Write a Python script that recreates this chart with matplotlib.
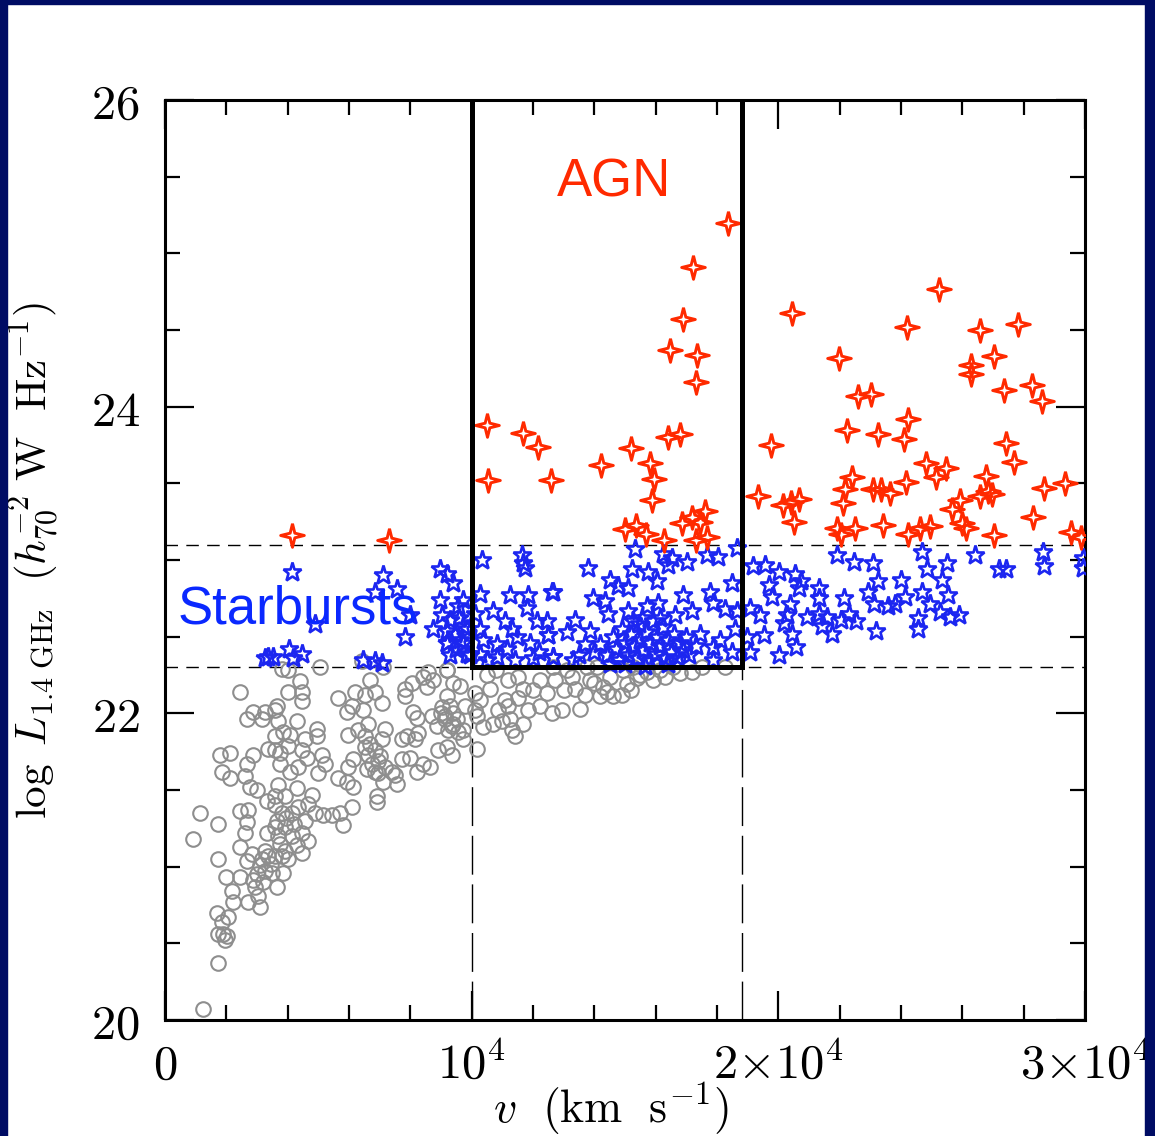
import matplotlib
matplotlib.use("Agg")
import matplotlib.pyplot as plt
from matplotlib.patches import Rectangle
from matplotlib.ticker import MultipleLocator

plt.rcParams["mathtext.fontset"] = "cm"

# velocities in km/s, log L_1.4GHz
gray_v = [
    1250, 1739, 1739, 2011, 1848, 2065, 1685, 1957, 1902, 924, 1141, 1739, 1739, 1989,
    2228, 2174, 2446, 2718, 3098, 3044, 2881, 2663, 2446, 2609, 2446, 2718, 2663, 2826,
    3098, 3261, 3370, 3261, 3641, 3478, 3587, 3859, 3804, 4022, 3750, 3315, 3587, 3804,
    3587, 3913, 3696, 3913, 4131, 4294, 4457, 4131, 4348, 4565, 4457, 4674, 4674, 4783,
    4294, 3587, 3315, 2990, 2772, 2609, 2663, 2881, 1794, 2120, 1848, 2120, 3370, 3587,
    3750, 3587, 3859, 4076, 4022, 3750, 4076, 4565, 4457, 4620, 4348, 4946, 4946, 5109,
    5218, 5000, 2663, 2881, 3152, 3261, 3587, 3641, 2446, 3804, 4022, 4402, 4022, 4457,
    4457, 5055, 4892, 5163, 5435, 5707, 5815, 6087, 5652, 5924, 6142, 5978, 6142, 5978,
    6305, 6522, 6631, 6522, 6631, 6848, 7066, 7174, 6739, 6957, 7174, 6957, 7392, 7120,
    6903, 6903, 7500, 7555, 7718, 7989, 7718, 7881, 8153, 8261, 8424, 8642, 8207, 5652,
    5924, 6196, 6087, 6468, 6522, 6848, 7066, 6685, 6413, 7120, 7826, 7826, 8044, 8424,
    8587, 8750, 8533, 8098, 8207, 8696, 9022, 8859, 9131, 9348, 9240, 9511, 9566, 9729,
    9185, 8913, 9348, 9783, 9620, 9185, 10109, 10109, 10163,
    3700, 3900, 3650, 4200, 3450, 3950, 3200, 3000, 3150, 2950, 6700, 6850, 7000, 6600,
    9000, 9300, 9400, 3700, 4300,
    9185, 9403, 9185, 9131, 9403, 9729, 10272, 10164, 10381, 10599, 10870, 11088, 11251,
    11305, 11414, 11196, 11522, 11686, 11849, 11686, 12229, 12229, 12446, 12718, 12609,
    12935, 13262, 13370, 13533, 13860, 14077, 14295, 14186, 14512, 14621, 14947, 15055,
    14892, 15381, 15707, 15925, 16142, 16577, 17175, 18262, 12664, 13099, 13751, 15273,
    11000, 11200, 10700, 11500, 12000, 13000, 13700, 14000, 14400, 15200, 15500, 16300,
    16800, 17500, 10500, 10800,
]
gray_logl = [
    20.07, 20.37, 20.56, 20.55, 20.64, 20.67, 20.70, 20.52, 20.56, 21.18, 21.35, 21.28, 21.05, 20.93,
    20.77, 20.84, 20.93, 20.77, 20.74, 20.81, 20.91, 21.04, 21.13, 21.22, 21.36, 21.37, 21.29, 21.08,
    21.01, 20.97, 21.07, 21.10, 20.87, 20.96, 21.07, 20.96, 21.07, 21.05, 21.15, 21.22, 21.26, 21.35,
    21.40, 21.46, 21.53, 21.26, 21.20, 21.14, 21.09, 21.35, 21.39, 21.30, 21.22, 21.17, 21.41, 21.47,
    21.51, 21.46, 21.43, 21.50, 21.52, 21.59, 21.67, 21.73, 21.73, 21.74, 21.62, 21.58, 21.77, 21.76,
    21.74, 21.85, 21.88, 21.86, 21.79, 21.67, 21.62, 21.83, 21.76, 21.71, 21.65, 21.90, 21.85, 21.73,
    21.67, 21.61, 21.96, 22.01, 21.96, 22.01, 22.02, 22.05, 22.14, 22.29, 22.28, 22.21, 22.14, 22.14,
    22.08, 22.30, 21.35, 21.34, 21.34, 21.35, 21.27, 21.39, 21.58, 21.55, 21.52, 21.65, 21.70, 21.86,
    21.89, 21.85, 21.93, 21.78, 21.73, 21.76, 21.83, 21.90, 21.67, 21.69, 21.65, 21.61, 21.62, 21.55,
    21.46, 21.42, 21.60, 21.54, 21.70, 21.71, 21.83, 21.85, 21.83, 21.87, 21.67, 21.65, 21.62, 22.10,
    22.01, 22.14, 22.05, 22.02, 22.12, 22.14, 22.07, 22.22, 22.34, 22.30, 22.16, 22.11, 22.20, 22.24,
    22.27, 22.22, 22.17, 22.01, 21.97, 21.98, 22.04, 21.92, 21.96, 21.92, 21.89, 21.96, 21.88, 21.83,
    21.78, 21.76, 21.73, 22.05, 22.18, 22.28, 22.13, 22.02, 21.77,
    21.20, 21.10, 21.30, 21.28, 21.02, 21.32, 20.90, 20.95, 21.05, 20.87, 21.80, 21.62, 21.72, 21.64,
    22.00, 22.05, 22.00, 21.95, 21.95,
    22.28, 22.20, 22.11, 21.98, 21.93, 21.89, 22.09, 21.98, 21.91, 22.16, 22.02, 22.09, 21.96,
    21.89, 21.85, 22.22, 22.24, 22.16, 22.02, 21.93, 22.22, 22.05, 22.13, 22.22, 22.00,
    22.02, 22.24, 22.16, 22.03, 22.22, 22.30, 22.17, 22.11, 22.24, 22.11, 22.28, 22.19,
    22.12, 22.23, 22.27, 22.22, 22.28, 22.30, 22.27, 22.30, 22.30, 22.28, 22.30, 22.30,
    21.95, 22.05, 21.93, 22.10, 22.15, 22.15, 22.12, 22.20, 22.14, 22.15, 22.25, 22.24,
    22.26, 22.30, 22.25, 22.28,
]

blue_v = [
    3359, 3533, 3250, 4131, 4055, 4457, 4185, 4892, 6468, 6848, 7066, 7120, 6848, 7555,
    7990, 7827, 8968, 9185, 9402, 8968, 9728, 9565, 9022, 9293, 8750, 9185, 9456, 9728,
    9185, 9728, 9946, 9196, 9620, 9848, 9600, 9850, 9500, 9300,
    10327, 11631, 11685, 11740, 10272, 10707, 11250, 11848, 11794, 11087, 12120, 12609,
    10272, 10381, 10816, 11142, 11468, 11903, 12501, 10272, 10816, 12663, 10100, 10500,
    11400, 12200, 11300, 12000,
    15327, 16251, 16523, 16414, 17012, 17664, 18044, 18642, 13805, 15218, 15762, 16033,
    14512, 14783, 15110, 12664, 16903, 17773, 18479, 13968, 14349, 17881, 18262, 15110,
    15707, 16088, 17175, 16632, 14457, 13370, 18642, 12446, 13099, 12500, 13860, 17447,
    18099, 17882, 16903, 12664, 13316, 17882, 18500, 18600,
    14200, 14400, 14600, 14700, 14800, 14900, 15000, 15100, 15200, 15300, 15400, 15450,
    15500, 15600, 15700, 15750, 15800, 15900, 16000, 16050, 16150, 16250, 16300, 16400,
    16500, 16600, 16700, 16800, 17000, 17100, 17300, 14000, 13700, 13500, 15550, 15250,
    16150, 15650, 15000, 14500, 16400,
    21929, 22477, 23080, 24669, 24834, 25492, 26423, 27190, 27410, 28615, 28670, 29930,
    29930, 19189, 19573, 20011, 20559, 19683, 20724, 20669, 19792, 21327, 21327, 22149,
    23245, 22916, 24012, 24121, 24669, 25327, 25546, 23135, 23573, 23793, 24943, 20395,
    19080, 19409, 20285, 20943, 21327, 21601, 22313, 22532, 22039, 21436, 21765, 20176,
    20450, 20560, 18970, 19518, 19080, 20011, 23190, 24560, 24560, 25272, 25601, 25875,
]
blue_logl = [
    22.37, 22.37, 22.36, 22.92, 22.42, 22.39, 22.36, 22.58, 22.35, 22.34, 22.33, 22.90, 22.79, 22.81,
    22.64, 22.50, 22.94, 22.91, 22.85, 22.74, 22.74, 22.70, 22.64, 22.61, 22.55, 22.54, 22.52, 22.57,
    22.46, 22.46, 22.38, 22.46, 22.48, 22.39, 22.62, 22.55, 22.42, 22.38,
    23.00, 23.03, 22.98, 22.95, 22.78, 22.67, 22.77, 22.77, 22.69, 22.60, 22.60, 22.79,
    22.55, 22.48, 22.45, 22.42, 22.50, 22.46, 22.51, 22.39, 22.37, 22.37, 22.65, 22.35,
    22.35, 22.40, 22.55, 22.36,
    23.07, 23.04, 23.01, 22.97, 22.99, 23.03, 23.02, 23.08, 22.95, 22.94, 22.92, 22.86,
    22.87, 22.83, 22.82, 22.79, 22.77, 22.79, 22.85, 22.75, 22.73, 22.72, 22.68, 22.67,
    22.70, 22.72, 22.67, 22.64, 22.65, 22.61, 22.67, 22.60, 22.53, 22.51, 22.54, 22.52,
    22.48, 22.43, 22.41, 22.37, 22.35, 22.35, 22.40, 22.55,
    22.45, 22.38, 22.50, 22.42, 22.35, 22.55, 22.46, 22.38, 22.52, 22.44, 22.36, 22.58,
    22.48, 22.41, 22.53, 22.34, 22.46, 22.60, 22.39, 22.50, 22.44, 22.56, 22.36, 22.48,
    22.40, 22.52, 22.37, 22.46, 22.50, 22.38, 22.44, 22.40, 22.45, 22.38, 22.62, 22.60,
    22.62, 22.31, 22.32, 22.32, 22.32,
    23.03, 22.99, 22.98, 23.05, 22.94, 22.98, 23.03, 22.94, 22.94, 23.05, 22.96, 23.01,
    22.95, 22.96, 22.97, 22.92, 22.91, 22.84, 22.86, 22.82, 22.76, 22.82, 22.75, 22.75,
    22.86, 22.79, 22.87, 22.76, 22.79, 22.87, 22.77, 22.71, 22.70, 22.71, 22.71, 22.71,
    22.69, 22.64, 22.64, 22.63, 22.65, 22.63, 22.65, 22.60, 22.61, 22.57, 22.52, 22.59,
    22.52, 22.43, 22.50, 22.51, 22.40, 22.38, 22.54, 22.62, 22.55, 22.66, 22.63, 22.64,
]

red_v = [
    4141, 7305,
    18365, 17221, 16892, 16458, 17339, 17326, 10501, 11658, 12158, 10540, 12579, 14222,
    15182, 15800, 15932, 15879, 16392, 16787, 15011, 15353, 15669, 16261, 16852, 17181,
    17615, 17444, 17313, 17668, 19351, 19772, 20442, 20140, 20403, 20666, 20508, 21981,
    22244, 22612, 23033, 22402, 22178, 22113, 21915, 22047, 22507, 23243, 23099, 23362,
    23625, 23401, 24190, 24217, 24085, 24151, 24217, 24809, 25137, 25466, 24611, 24940,
    25242, 26584, 26294, 26294, 27044, 27820, 27346, 28267, 28596, 27438, 27675, 26781,
    26584, 26847, 26978, 25926, 25663, 25992, 26123, 27044, 28293, 28661, 29345, 29542,
    29871,
]
red_logl = [
    23.16, 23.13,
    25.20, 24.91, 24.57, 24.37, 24.34, 24.16, 23.88, 23.83, 23.74, 23.52, 23.52, 23.62,
    23.73, 23.63, 23.53, 23.39, 23.80, 23.82, 23.20, 23.23, 23.17, 23.13, 23.24, 23.28,
    23.32, 23.25, 23.13, 23.15, 23.42, 23.75, 24.61, 23.36, 23.38, 23.40, 23.25, 24.32,
    23.85, 24.07, 24.08, 23.54, 23.46, 23.37, 23.21, 23.17, 23.21, 23.82, 23.46, 23.46,
    23.44, 23.23, 24.52, 23.92, 23.79, 23.51, 23.17, 23.63, 23.54, 23.60, 23.21, 23.22,
    24.77, 24.50, 24.27, 24.21, 24.33, 24.54, 24.11, 24.14, 24.04, 23.76, 23.64, 23.55,
    23.42, 23.45, 23.43, 23.39, 23.33, 23.24, 23.21, 23.16, 23.28, 23.47, 23.50, 23.18,
    23.15,
]

# selection limits
v_lo, v_hi = 10000, 18800
l_sb, l_agn = 22.3, 23.1

NAVY = "#000c64"
GRAY = "#8e8e8e"
BLUE = "#1c26f0"
RED = "#ff2a00"

# four-pointed star marker (concave sides)
r_in = 0.28
star4 = [(0, 1), (r_in * 0.707, r_in * 0.707), (1, 0), (r_in * 0.707, -r_in * 0.707),
         (0, -1), (-r_in * 0.707, -r_in * 0.707), (-1, 0), (-r_in * 0.707, r_in * 0.707), (0, 1)]

fig = plt.figure(figsize=(11.55, 11.36), dpi=100, facecolor="white")
ax = fig.add_axes([165 / 1155, 1 - 1020 / 1136, 920 / 1155, 920 / 1136])

ax.plot(gray_v, gray_logl, linestyle="none", marker="o", markersize=10.5,
        markerfacecolor="none", markeredgecolor=GRAY, markeredgewidth=1.5, zorder=2)
ax.plot(blue_v, blue_logl, linestyle="none", marker="*", markersize=14,
        markerfacecolor="none", markeredgecolor=BLUE, markeredgewidth=1.9, zorder=3)
ax.plot(red_v, red_logl, linestyle="none", marker=star4, markersize=17,
        markerfacecolor="none", markeredgecolor=RED, markeredgewidth=2.1, zorder=3.5)

ax.axhline(l_agn, color="black", lw=1.0, dashes=(9, 6), zorder=1)
ax.axhline(l_sb, color="black", lw=1.0, dashes=(9, 6), zorder=1)
for v in (v_lo, v_hi):
    ax.plot([v, v], [20, l_sb], color="black", lw=1.0, dashes=(28, 7), zorder=1)
ax.plot([v_lo, v_lo, v_hi, v_hi], [26, l_sb, l_sb, 26], color="black", lw=3.6,
        solid_joinstyle="miter", zorder=4)

ax.text(14650, 25.46, "AGN", color=RED, fontsize=38, family="Liberation Sans",
        ha="center", va="center", zorder=6)
ax.text(400, 22.68, "Starbursts", color="#0a28ff", fontsize=38, family="Liberation Sans",
        ha="left", va="center", zorder=6)

ax.set_xlim(0, 30000)
ax.set_ylim(20, 26)
ax.set_xticks([0, 10000, 20000, 30000])
ax.set_xticklabels([r"$0$", r"$10^4$", r"$2{\times}10^4$", r"$3{\times}10^4$"])
ax.set_yticks([20, 22, 24, 26])
ax.set_yticklabels([r"$20$", r"$22$", r"$24$", r"$26$"])
ax.xaxis.set_minor_locator(MultipleLocator(2000))
ax.yaxis.set_minor_locator(MultipleLocator(0.5))
ax.tick_params(which="both", direction="in", top=True, right=True, width=1.6, colors="black")
ax.tick_params(which="major", length=21, labelsize=35)
ax.tick_params(which="minor", length=10.5)
ax.tick_params(axis="x", which="major", pad=15)
ax.tick_params(axis="y", which="major", pad=18)
for s in ax.spines.values():
    s.set_linewidth(2.2)

ax.set_xlabel(r"$v\ \ (\mathrm{km\ \ s^{-1}})$", fontsize=33)
ax.xaxis.set_label_coords(0.484, -0.066)
ax.set_ylabel(r"$\log\ L_{1.4\ \mathrm{GHz}}\ \ (h_{70}^{-2}\ \mathrm{W\ \ Hz}^{-1})$", fontsize=31)
ax.yaxis.set_label_coords(-0.112, 0.5)

# dark frame around the slide
for x0, y0, w, h in [(0, 0, 7, 1136), (1145, 0, 10, 1136), (0, 0, 1155, 4)]:
    fig.add_artist(Rectangle((x0 / 1155, 1 - (y0 + h) / 1136), w / 1155, h / 1136,
                             transform=fig.transFigure, color=NAVY, zorder=10))

fig.savefig("out.png", dpi=100, facecolor="white")
